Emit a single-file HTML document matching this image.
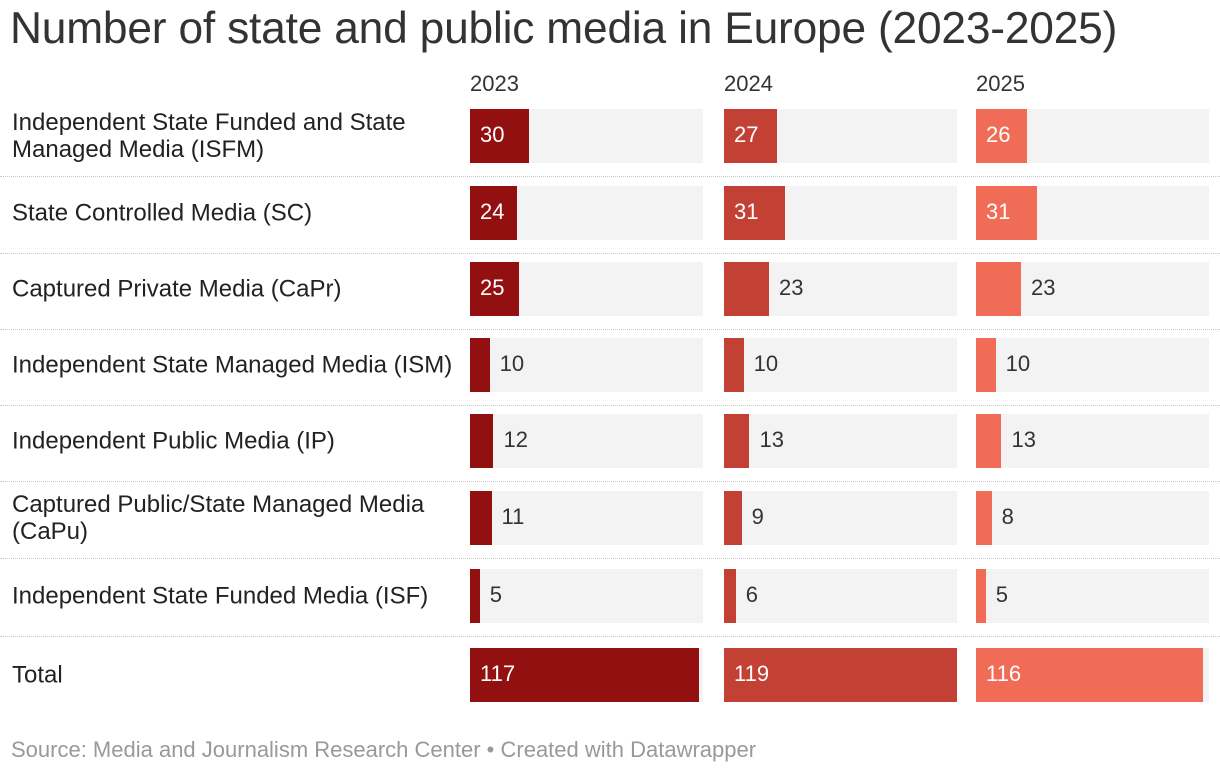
<!DOCTYPE html>
<html><head><meta charset="utf-8"><style>
body{margin:0;width:1220px;height:774px;background:#fff;font-family:"Liberation Sans",Arial,sans-serif;position:relative;overflow:hidden;color:#333}
.t{position:absolute;left:10px;top:4px;font-size:44.3px;color:#333;white-space:nowrap;margin:0;font-weight:normal;letter-spacing:-0.2px}
.yr{position:absolute;top:71px;font-size:22px;color:#333}
.lab{position:absolute;left:12px;font-size:24px;line-height:27px;color:#222;transform:translateY(-50%);white-space:nowrap}
.sep{position:absolute;left:0;width:1220px;border-top:1px dotted #c8c8c8}
.bg{position:absolute;background:#f3f3f3}
.bar{position:absolute}
.val{position:absolute;font-size:22px;transform:translateY(-50%)}
.src{position:absolute;left:11px;top:737px;font-size:22px;color:#999;white-space:nowrap}
</style></head><body>
<h1 class="t">Number of state and public media in Europe (2023-2025)</h1>
<div id="chart"></div>
<div class="src">Source: Media and Journalism Research Center • Created with Datawrapper</div>
<script>
const years=["2023","2024","2025"];
const categories=["Independent State Funded and State Managed Media (ISFM)","State Controlled Media (SC)","Captured Private Media (CaPr)","Independent State Managed Media (ISM)","Independent Public Media (IP)","Captured Public/State Managed Media (CaPu)","Independent State Funded Media (ISF)","Total"];
const labelHtml=["Independent State Funded and State<br>Managed Media (ISFM)","State Controlled Media (SC)","Captured Private Media (CaPr)","Independent State Managed Media (ISM)","Independent Public Media (IP)","Captured Public/State Managed Media<br>(CaPu)","Independent State Funded Media (ISF)","Total"];
const v2023=[30,24,25,10,12,11,5,117];
const v2024=[27,31,23,10,13,9,6,119];
const v2025=[26,31,23,10,13,8,5,116];
const series=[v2023,v2024,v2025];
const colors=["#921010","#c24134","#f06c57"];
const colX=[470,724,976], colW=233, barH=54;
const rowC=[136,213,289,365,441,518,596,675];
const maxV=Math.max(...series.flat());
const x=v=>v/maxV*colW;
const root=document.getElementById('chart');
function mk(cls,css,txt){const e=document.createElement('div');e.className=cls;Object.assign(e.style,css);if(txt!==undefined)e.innerHTML=txt;root.appendChild(e);return e;}
years.forEach((y,j)=>{const e=mk('yr',{left:colX[j]+'px'},y);

});
categories.forEach((c,i)=>{
const l=mk('lab',{top:rowC[i]+'px'},labelHtml[i]);


if(i<categories.length-1){const s=mk('sep',{top:(rowC[i]+40)+'px'});

}
series.forEach((vals,j)=>{
const top=rowC[i]-barH/2;
const bg=mk('bg',{left:colX[j]+'px',top:top+'px',width:colW+'px',height:barH+'px'});


const w=x(vals[i]);
const b=mk('bar',{left:colX[j]+'px',top:top+'px',width:w+'px',height:barH+'px',background:colors[j]});


const inside=w>46;
const t=mk('val',{left:(inside?colX[j]+10:colX[j]+w+10)+'px',top:(rowC[i]-1)+'px',color:inside?'#fff':'#333'},vals[i]);


});
});
</script>
</body></html>
